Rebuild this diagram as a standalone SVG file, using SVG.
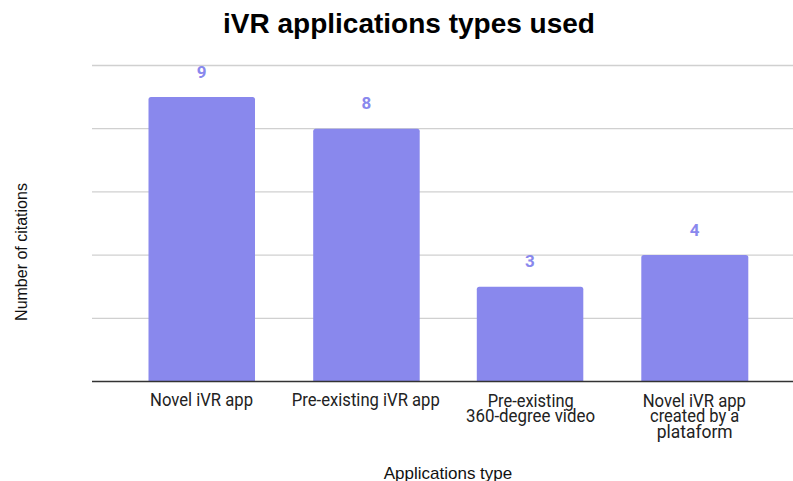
<svg xmlns="http://www.w3.org/2000/svg" width="793" height="481" viewBox="0 0 793 481">
  <style>
    .grid { stroke: #d0d0d0; stroke-width: 1.3; }
    .axis { stroke: #333333; stroke-width: 1.5; }
    .bar { fill: #8988ed; }
    .val { font-family: Roboto, "Liberation Sans", sans-serif; font-weight: bold; font-size: 17px; fill: #8988ed; text-anchor: middle; }
    .cat { font-family: Roboto, "Liberation Sans", sans-serif; font-size: 18px; fill: #222222; }
    .title { font-family: "Liberation Sans", Arial, sans-serif; font-weight: bold; font-size: 28px; fill: #000000; text-anchor: middle; }
    .axt { font-family: "Liberation Sans", Arial, sans-serif; font-size: 16px; fill: #111111; text-anchor: middle; }
  </style>
  <rect x="0" y="0" width="793" height="481" fill="#ffffff"/>
  <text class="title" x="409" y="33">iVR applications types used</text>

  <g id="gridlines">
    <line class="grid" x1="92" y1="65.5" x2="793" y2="65.5"/>
    <line class="grid" x1="92" y1="128.7" x2="793" y2="128.7"/>
    <line class="grid" x1="92" y1="191.9" x2="793" y2="191.9"/>
    <line class="grid" x1="92" y1="255.1" x2="793" y2="255.1"/>
    <line class="grid" x1="92" y1="318.3" x2="793" y2="318.3"/>
  </g>

  <g id="bar-novel-ivr-app">
    <path class="bar" d="M148.5,381.5 V99.6 Q148.5,97.1 151,97.1 H252.5 Q255,97.1 255,99.6 V381.5 Z"/>
    <text class="val" x="201.7" y="77.5">9</text>
    <text class="cat" x="150" y="406" textLength="103" lengthAdjust="spacingAndGlyphs">Novel iVR app</text>
  </g>

  <g id="bar-pre-existing-ivr-app">
    <path class="bar" d="M313.2,381.5 V131.2 Q313.2,128.7 315.7,128.7 H417.2 Q419.7,128.7 419.7,131.2 V381.5 Z"/>
    <text class="val" x="366.5" y="109">8</text>
    <text class="cat" x="291.8" y="406" textLength="148" lengthAdjust="spacingAndGlyphs">Pre-existing iVR app</text>
  </g>

  <g id="bar-pre-existing-360-video">
    <path class="bar" d="M476.8,381.5 V289.2 Q476.8,286.7 479.3,286.7 H580.8 Q583.3,286.7 583.3,289.2 V381.5 Z"/>
    <text class="val" x="530" y="267">3</text>
    <text class="cat" x="487.7" y="406.5" textLength="86" lengthAdjust="spacingAndGlyphs">Pre-existing</text>
    <text class="cat" x="466" y="422" textLength="129" lengthAdjust="spacingAndGlyphs">360-degree video</text>
  </g>

  <g id="bar-novel-ivr-app-platform">
    <path class="bar" d="M641.3,381.5 V257.6 Q641.3,255.1 643.8,255.1 H745.8 Q748.3,255.1 748.3,257.6 V381.5 Z"/>
    <text class="val" x="694.7" y="235.5">4</text>
    <text class="cat" x="642.7" y="406.5" textLength="103.3" lengthAdjust="spacingAndGlyphs">Novel iVR app</text>
    <text class="cat" x="650" y="422" textLength="89.3" lengthAdjust="spacingAndGlyphs">created by a</text>
    <text class="cat" x="656.7" y="437.5" textLength="76" lengthAdjust="spacingAndGlyphs">plataform</text>
  </g>

  <g id="axis">
    <line class="axis" x1="92" y1="381.5" x2="793" y2="381.5"/>
  </g>

  <text class="axt" x="448" y="479" style="font-size:17px">Applications type</text>
  <text class="axt" transform="translate(27,252) rotate(-90)" x="0" y="0">Number of citations</text>
</svg>
